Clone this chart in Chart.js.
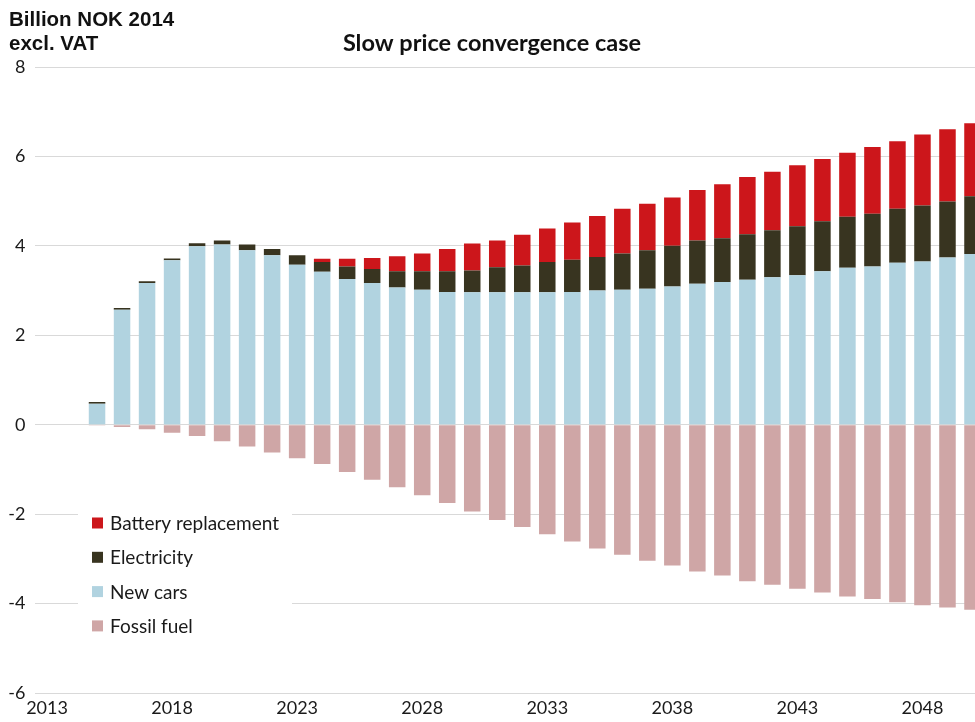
<!DOCTYPE html>
<html><head><meta charset="utf-8">
<script src="https://cdn.jsdelivr.net/npm/chart.js@4.4.1/dist/chart.umd.min.js"></script>
<style>
html,body{margin:0;padding:0;overflow:hidden;background:#fff;width:975px;height:722px}
#wrap{position:absolute;left:0;top:0;width:985px;height:722px}
canvas{display:block}
</style></head>
<body><div id="wrap"><canvas id="c" width="985" height="722"></canvas></div>
<script>
const years = ["2013","2014","2015","2016","2017","2018","2019","2020","2021","2022","2023","2024","2025","2026","2027","2028","2029","2030","2031","2032","2033","2034","2035","2036","2037","2038","2039","2040","2041","2042","2043","2044","2045","2046","2047","2048","2049","2050"];
const newCars = [null,null,0.47,2.57,3.17,3.68,3.99,4.03,3.90,3.79,3.58,3.42,3.26,3.17,3.07,3.02,2.97,2.96,2.96,2.96,2.96,2.97,3.00,3.02,3.04,3.09,3.15,3.19,3.24,3.30,3.34,3.43,3.51,3.54,3.62,3.65,3.74,3.82];
const electricity = [null,null,0.04,0.04,0.04,0.04,0.07,0.09,0.13,0.14,0.21,0.22,0.28,0.31,0.36,0.41,0.46,0.49,0.56,0.60,0.68,0.72,0.75,0.81,0.86,0.91,0.97,0.98,1.02,1.05,1.10,1.12,1.14,1.18,1.21,1.25,1.25,1.29];
const battery = [null,null,0,0,0,0,0,0,0,0,0,0.07,0.17,0.25,0.34,0.40,0.50,0.60,0.60,0.69,0.75,0.83,0.92,1.00,1.04,1.08,1.13,1.21,1.28,1.31,1.36,1.39,1.43,1.49,1.51,1.59,1.62,1.63];
const fossilFuel = [null,null,-0.02,-0.05,-0.10,-0.18,-0.25,-0.37,-0.49,-0.62,-0.75,-0.88,-1.06,-1.23,-1.40,-1.58,-1.75,-1.94,-2.13,-2.29,-2.45,-2.61,-2.77,-2.91,-3.04,-3.15,-3.28,-3.37,-3.50,-3.58,-3.67,-3.75,-3.84,-3.90,-3.97,-4.04,-4.09,-4.14];
const yTicks = [-6,-4,-2,0,2,4,6,8];
const xTickYears = ["2013","2018","2023","2028","2033","2038","2043","2048"];
const titleText = "Slow price convergence case";
const unitLines = ["Billion NOK 2014","excl. VAT"];
const legendOrder = ["Battery replacement","Electricity","New cars","Fossil fuel"];

const COLORS = {
  "New cars": "#b1d3e0",
  "Electricity": "#383420",
  "Battery replacement": "#cc161b",
  "Fossil fuel": "#cfa6a6"
};

const textPlugin = {
  id: 'texts',
  afterDraw(chart) {
    const ctx = chart.ctx;
    ctx.save();
    ctx.fillStyle = '#111';
    ctx.textAlign = 'left';
    ctx.textBaseline = 'alphabetic';
    ctx.font = 'bold 20.5px "Liberation Sans", Arial, sans-serif';
    ctx.fillText(unitLines[0], 9, 26);
    ctx.fillText(unitLines[1], 9, 50);
    ctx.textAlign = 'center';
    ctx.font = 'bold 23.5px Lato, "Open Sans", sans-serif';
    ctx.fillText(titleText, 492, 51);
    ctx.restore();
  }
};

const legendPlugin = {
  id: 'boxLegend',
  beforeDatasetsDraw(chart) {
    const ctx = chart.ctx;
    ctx.save();
    ctx.fillStyle = '#ffffff';
    ctx.fillRect(78, 505, 214, 140);
    ctx.font = '19px Lato, "Open Sans", sans-serif';
    ctx.textBaseline = 'middle';
    ctx.textAlign = 'left';
    legendOrder.forEach((name, i) => {
      const ds = chart.data.datasets.find(d => d.label === name);
      const cy = 523 + i * 34.3;
      ctx.fillStyle = ds.backgroundColor;
      ctx.fillRect(92, cy - 5.5, 11, 11);
      ctx.fillStyle = '#1a1a1a';
      ctx.fillText(name, 110, cy + 1);
    });
    ctx.restore();
  }
};

new Chart(document.getElementById('c'), {
  type: 'bar',
  data: {
    labels: years,
    datasets: [
      { label: "New cars", data: newCars, backgroundColor: COLORS["New cars"], stack: 's' },
      { label: "Electricity", data: electricity, backgroundColor: COLORS["Electricity"], stack: 's' },
      { label: "Battery replacement", data: battery, backgroundColor: COLORS["Battery replacement"], stack: 's' },
      { label: "Fossil fuel", data: fossilFuel, backgroundColor: COLORS["Fossil fuel"], stack: 's' }
    ]
  },
  options: {
    responsive: false,
    devicePixelRatio: 1,
    animation: false,
    layout: { padding: { top: 67, right: 0, bottom: 0, left: 0 } },
    datasets: { bar: { categoryPercentage: 1, barPercentage: 0.66, borderWidth: 0 } },
    plugins: { legend: { display: false }, tooltip: { enabled: false }, title: { display: false } },
    scales: {
      x: {
        stacked: true,
        offset: true,
        grid: { display: false, drawTicks: false },
        border: { display: false },
        ticks: {
          autoSkip: false, maxRotation: 0, minRotation: 0, padding: 4,
          color: '#1a1a1a',
          font: { family: 'Lato, "Open Sans", sans-serif', size: 18 },
          callback: function(v, i) { const y = years[i]; return xTickYears.includes(y) ? y : ''; }
        },
        afterFit(s) { s.height = 29; }
      },
      y: {
        stacked: true,
        min: -6, max: 8,
        afterBuildTicks(s) { s.ticks = yTicks.map(v => ({ value: v })); },
        grid: { color: '#d9d9d9', lineWidth: 1, drawTicks: false },
        border: { display: false },
        ticks: {
          padding: 9,
          color: '#1a1a1a',
          font: { family: 'Lato, "Open Sans", sans-serif', size: 18 }
        },
        afterFit(s) { s.width = 34.5; }
      }
    }
  },
  plugins: [legendPlugin, textPlugin]
});
</script>
</body></html>
